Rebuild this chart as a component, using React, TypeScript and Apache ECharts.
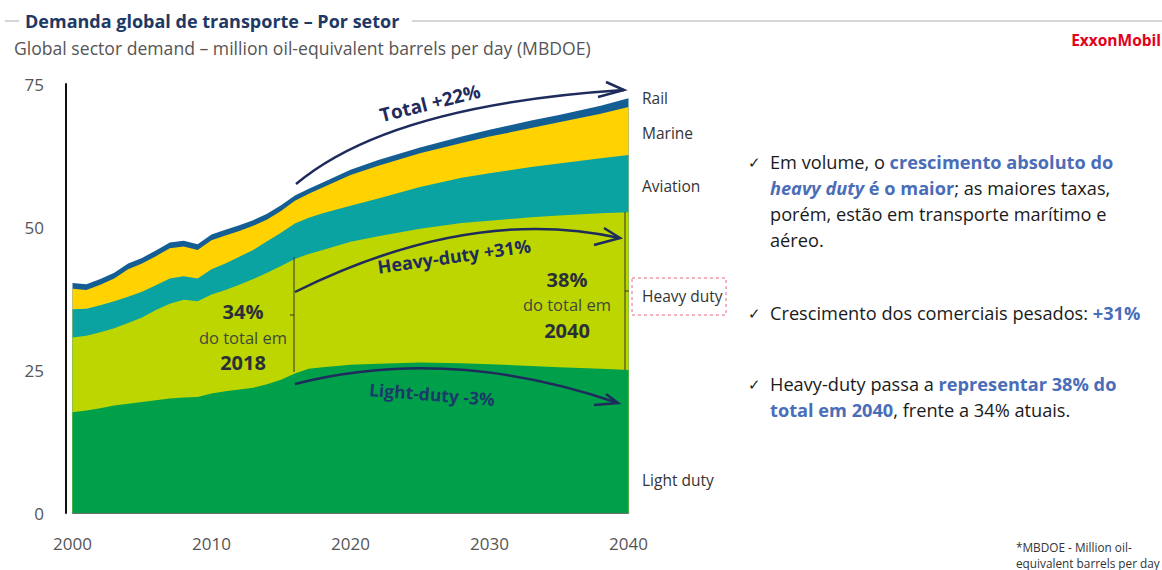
import React, { useEffect, useRef } from "react";
import * as echarts from "echarts";

const years = [2000, 2001, 2002, 2003, 2004, 2005, 2006, 2007, 2008, 2009, 2010, 2011, 2012, 2013, 2014, 2015, 2016, 2017, 2018, 2020, 2022, 2025, 2028, 2030, 2033, 2035, 2038, 2040];
const lightDuty = [17.6, 17.9, 18.3, 18.8, 19.1, 19.4, 19.7, 20.0, 20.2, 20.3, 20.9, 21.3, 21.6, 21.9, 22.5, 23.3, 24.4, 25.2, 25.5, 25.9, 26.1, 26.3, 26.2, 26.0, 25.7, 25.5, 25.2, 25.0];
const heavyDuty = [13.1, 13.1, 13.3, 13.5, 14.1, 14.8, 15.8, 16.6, 17.1, 16.7, 17.3, 17.7, 18.3, 19.0, 19.5, 19.9, 20.0, 20.1, 20.5, 21.5, 22.3, 23.4, 24.5, 25.1, 26.0, 26.5, 27.2, 27.6];
const aviation = [4.9, 4.7, 4.7, 4.7, 4.6, 4.5, 4.3, 4.4, 4.1, 4.0, 4.4, 4.6, 4.9, 5.1, 5.5, 5.8, 6.2, 6.3, 6.4, 6.3, 6.6, 7.3, 7.9, 8.3, 8.8, 9.1, 9.6, 10.0];
const marine = [3.6, 3.3, 3.6, 4.0, 4.8, 4.9, 5.1, 5.3, 5.2, 5.0, 5.1, 4.9, 4.5, 4.2, 3.8, 3.8, 4.0, 4.2, 4.5, 5.4, 5.7, 5.9, 6.1, 6.4, 6.8, 7.2, 7.8, 8.4];
const rail = [1.0, 1.0, 1.0, 1.0, 1.0, 1.0, 1.0, 1.0, 1.0, 1.0, 1.0, 1.0, 1.0, 1.0, 1.0, 1.0, 0.9, 0.9, 0.9, 0.9, 1.0, 1.0, 1.1, 1.2, 1.3, 1.3, 1.4, 1.5];

const seriesNames = ["Light duty", "Heavy duty", "Aviation", "Marine", "Rail"];
const seriesColors = ["#00A04B", "#BDD600", "#0AA3A2", "#FFD200", "#145E94"];
const seriesValues = [lightDuty, heavyDuty, aviation, marine, rail];
const xTicks = { min: 2000, max: 2040, interval: 10 };
const yTicks = { min: 0, max: 75, interval: 25 };

const FONT = "'Open Sans', 'Noto Sans', sans-serif";
const NAVY = "#1E2B5C";
const BLUE = "#4A6DB8";

export default function App() {
  const ref = useRef<HTMLDivElement>(null);
  useEffect(() => {
    document.body.style.margin = "0";
    if (!ref.current) return;
    const chart = echarts.init(ref.current, undefined, { renderer: "svg" });

    // cumulative tops (each band is filled down to zero; upper bands drawn first)
    const cumulative = seriesValues.map((_, i) =>
      years.map((_, j) => {
        let s = 0;
        for (let k = 0; k <= i; k++) s += seriesValues[k][j];
        return Math.round(s * 100) / 100;
      })
    );
    const series = seriesNames
      .map((name, i) => ({
        name,
        type: "line",
        symbol: "none",
        lineStyle: { width: 0 },
        areaStyle: { color: seriesColors[i], opacity: 1, origin: 0 },
        itemStyle: { color: seriesColors[i] },
        data: years.map((y, j) => [y, cumulative[i][j]]),
        z: 2 + (seriesNames.length - i),
      }))
      .reverse();

    const txt = (x: number, y: number, text: string, opt: any = {}, rotation = 0) => ({
      type: "text",
      x,
      y,
      rotation,
      z: 100,
      style: {
        text,
        fontFamily: FONT,
        fontSize: opt.fontSize ?? 14,
        fontWeight: opt.fontWeight ?? "normal",
        fill: opt.fill ?? "#333",
        align: opt.align ?? "left",
        verticalAlign: opt.verticalAlign ?? "middle",
        textAlign: opt.align ?? "left",
        textVerticalAlign: opt.verticalAlign ?? "middle",
        rich: opt.rich,
        lineHeight: opt.lineHeight,
      },
    });

    const line = (x1: number, y1: number, x2: number, y2: number, stroke = "#333", lineWidth = 1) => ({
      type: "line",
      z: 100,
      shape: { x1, y1, x2, y2 },
      style: { stroke, lineWidth },
    });

    const arrow = (x1: number, y1: number, cx: number, cy: number, x2: number, y2: number, w1: number[], w2: number[]) => [
      {
        type: "bezierCurve",
        z: 100,
        shape: { x1, y1, cpx1: cx, cpy1: cy, x2, y2 },
        style: { stroke: NAVY, lineWidth: 2.5, fill: "none" },
      },
      {
        type: "polyline",
        z: 100,
        shape: { points: [w1, [x2, y2], w2] },
        style: { stroke: NAVY, lineWidth: 2.5, fill: "none" },
      },
    ];

    const FS = 18.2;
    const rich = {
      n: { fontFamily: FONT, fontSize: FS, fill: "#1a1a1a", color: "#1a1a1a", lineHeight: 26 },
      b: { fontFamily: FONT, fontSize: FS, fill: BLUE, color: BLUE, fontWeight: "bold", lineHeight: 26 },
      bi: { fontFamily: FONT, fontSize: FS, fill: BLUE, color: BLUE, fontWeight: "bold", fontStyle: "italic", lineHeight: 26 },
    };

    const graphic: any[] = [
      // header
      line(5, 21, 19, 21, "#c8c8c8", 1.5),
      line(412, 21, 1162, 21, "#c8c8c8", 1.5),
      txt(25, 21, "Demanda global de transporte – Por setor", { fontSize: 18, fontWeight: "bold", fill: "#203864" }),
      txt(14, 48, "Global sector demand – million oil-equivalent barrels per day (MBDOE)", { fontSize: 17.6, fill: "#555" }),
      txt(1161, 40, "ExxonMobil", { fontSize: 15.5, fontWeight: "bold", fill: "#E3001B", align: "right" }),
      // arrows
      ...arrow(296, 184, 390, 105, 624, 90, [606, 82], [598, 97]),
      ...arrow(295, 292, 470, 205, 620, 238, [604, 228], [594, 245]),
      ...arrow(295, 384, 450, 345, 618, 403, [606, 394], [594, 405]),
      txt(430, 103, "Total +22%", { fontSize: 19, fontWeight: "bold", fill: NAVY, align: "center" }, 0.245),
      txt(454, 256, "Heavy-duty +31%", { fontSize: 18, fontWeight: "bold", fill: NAVY, align: "center" }, 0.14),
      txt(432, 394, "Light-duty -3%", { fontSize: 17.5, fontWeight: "bold", fill: "#1A3A6A", align: "center" }, -0.08),
      // brackets
      line(294, 257, 294, 372, "#333", 1),
      line(290, 315, 294, 315, "#333", 1),
      line(625, 212, 625, 370, "#333", 1),
      line(625, 291, 629, 291, "#333", 1),
      // share annotations
      txt(243, 311, "34%", { fontSize: 20, fontWeight: "bold", fill: "#2A2F3A", align: "center" }),
      txt(243, 337, "do total em", { fontSize: 16.5, fill: "#3E4A3A", align: "center" }),
      txt(243, 362, "2018", { fontSize: 20, fontWeight: "bold", fill: "#2A2F3A", align: "center" }),
      txt(567, 279, "38%", { fontSize: 20, fontWeight: "bold", fill: "#2A2F3A", align: "center" }),
      txt(567, 304, "do total em", { fontSize: 16.5, fill: "#3E4A3A", align: "center" }),
      txt(567, 330, "2040", { fontSize: 20, fontWeight: "bold", fill: "#2A2F3A", align: "center" }),
      // series labels
      txt(642, 98, "Rail", { fontSize: 15.5 }),
      txt(642, 133, "Marine", { fontSize: 15.5 }),
      txt(642, 186, "Aviation", { fontSize: 15.5 }),
      txt(642, 296, "Heavy duty", { fontSize: 15.5 }),
      txt(642, 480, "Light duty", { fontSize: 15.5 }),
      {
        type: "rect",
        z: 100,
        shape: { x: 632, y: 278, width: 94, height: 37 },
        style: { fill: "none", stroke: "#E8667A", lineWidth: 1, lineDash: [3, 3] },
      },
      // bullets
      txt(748, 162, "✓", { fontSize: 15, fill: "#222" }),
      txt(748, 313, "✓", { fontSize: 15, fill: "#222" }),
      txt(748, 384, "✓", { fontSize: 15, fill: "#222" }),
      txt(770, 149,
        "{n|Em volume, o }{b|crescimento absoluto do}\n{bi|heavy duty}{b| é o maior}{n|; as maiores taxas,}\n{n|porém, estão em transporte marítimo e}\n{n|aéreo.}",
        { rich, verticalAlign: "top", lineHeight: 26 }),
      txt(770, 313, "{n|Crescimento dos comerciais pesados: }{b|+31%}", { rich }),
      txt(770, 371,
        "{n|Heavy-duty passa a }{b|representar 38% do}\n{b|total em 2040}{n|, frente a 34% atuais.}",
        { rich, verticalAlign: "top", lineHeight: 26 }),
      // footnote
      txt(1016, 547, "*MBDOE - Million oil-", { fontSize: 11.8, fill: "#333" }),
      txt(1016, 563, "equivalent barrels per day", { fontSize: 11.8, fill: "#333" }),
    ];

    chart.setOption({
      animation: false,
      backgroundColor: "#fff",
      grid: { left: 72.5, right: 533.5, top: 84, bottom: 57 },
      xAxis: {
        type: "value",
        min: xTicks.min,
        max: xTicks.max,
        interval: xTicks.interval,
        axisLine: { show: true, lineStyle: { color: "#444", width: 1.5 } },
        axisTick: { show: false },
        splitLine: { show: false },
        axisLabel: { color: "#555", fontSize: 17, fontFamily: FONT, margin: 22, formatter: (v: number) => String(v) },
      },
      yAxis: {
        type: "value",
        min: yTicks.min,
        max: yTicks.max,
        interval: yTicks.interval,
        offset: 6.5,
        axisLine: { show: true, lineStyle: { color: "#111", width: 2 } },
        axisTick: { show: false },
        splitLine: { show: false },
        axisLabel: { color: "#555", fontSize: 17, fontFamily: FONT, margin: 22 },
      },
      series,
      graphic,
    });
    return () => chart.dispose();
  }, []);
  return <div ref={ref} style={{ width: 1162, height: 570 }} />;
}
